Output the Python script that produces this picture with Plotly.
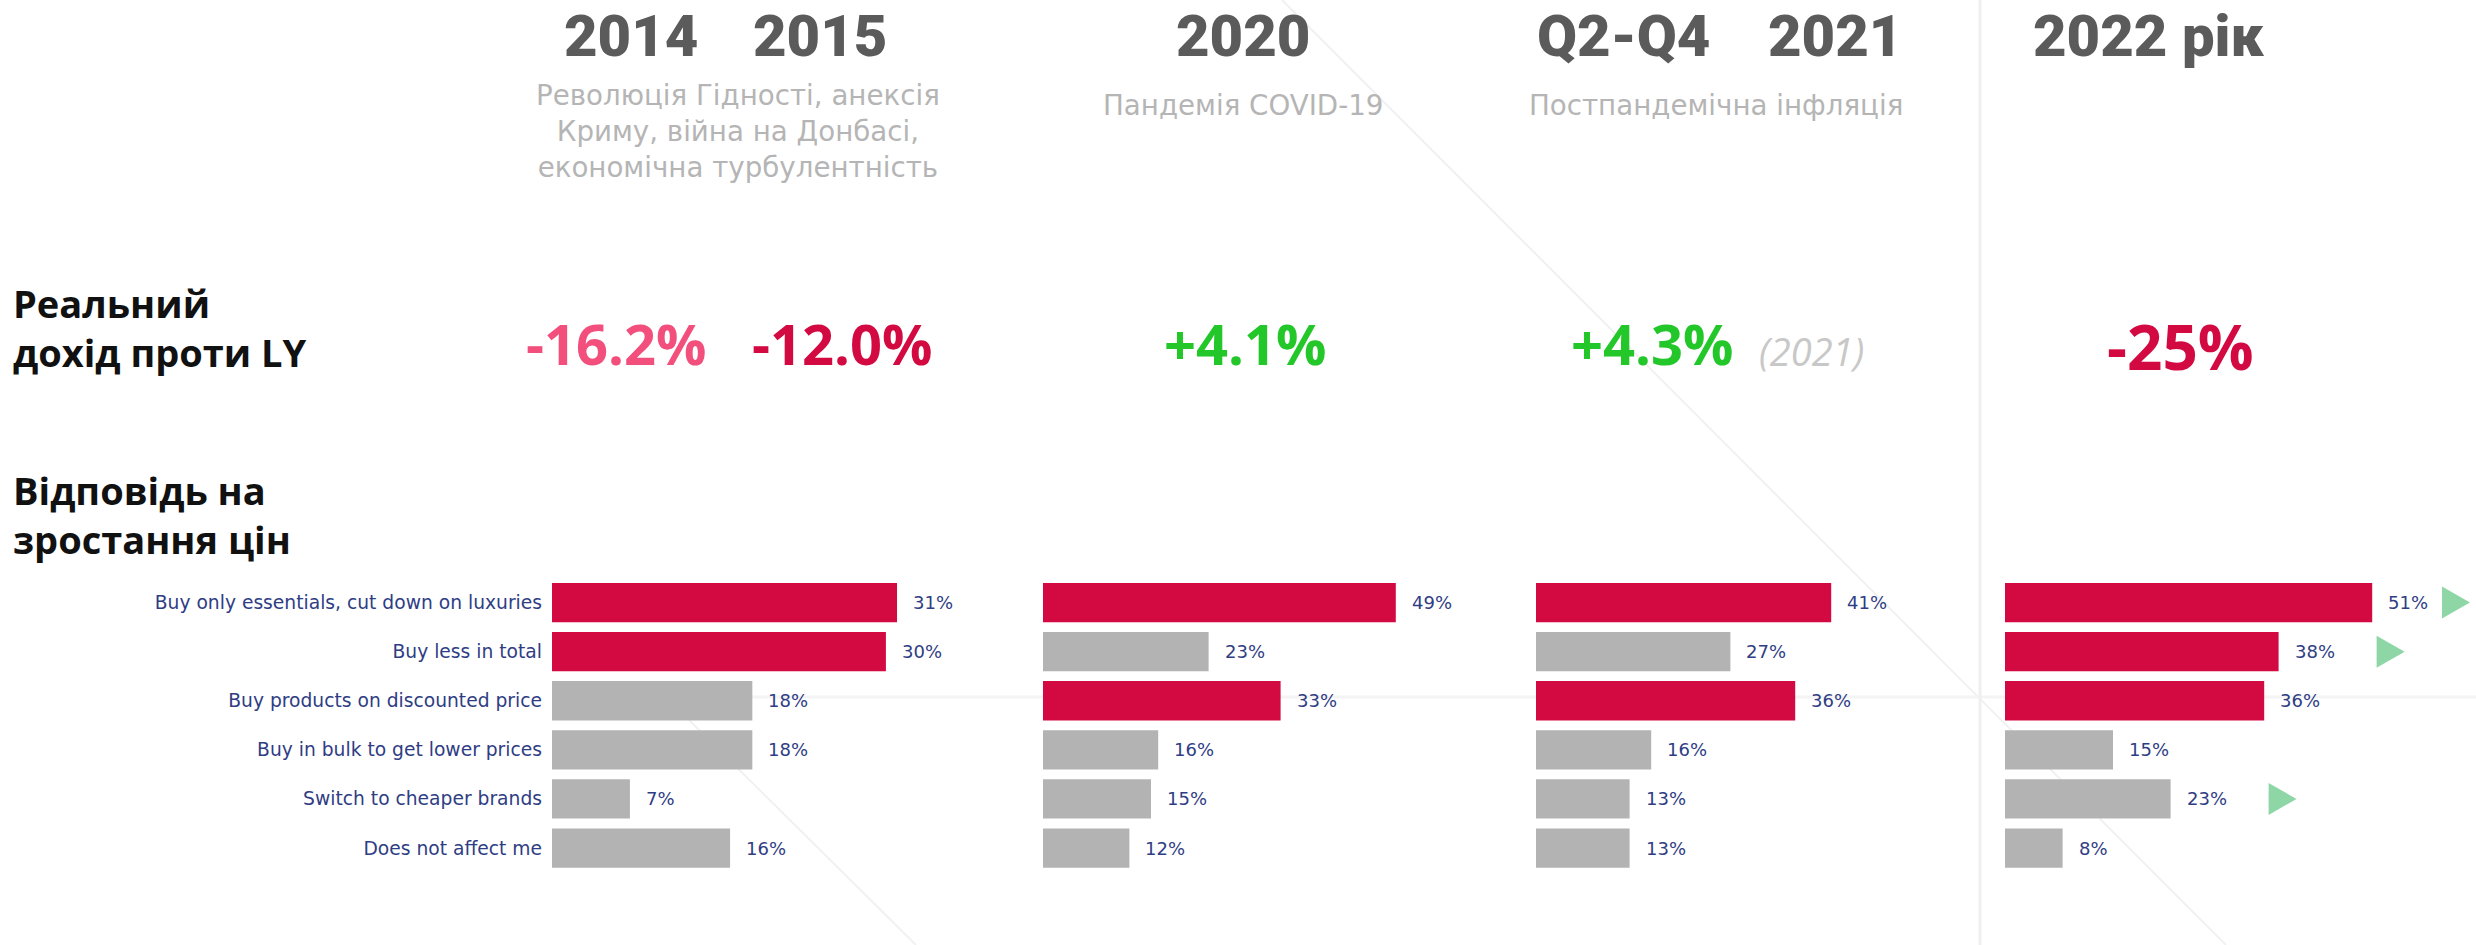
import plotly.graph_objects as go

W, H = 2476, 945

# ---------------- data ----------------
categories = [
    "Buy only essentials, cut down on luxuries",
    "Buy less in total",
    "Buy products on discounted price",
    "Buy in bulk to get lower prices",
    "Switch to cheaper brands",
    "Does not affect me",
]
resp_2014 = [31, 30, 18, 18, 7, 16]
resp_2020 = [49, 23, 33, 16, 15, 12]
resp_2021 = [41, 27, 36, 16, 13, 13]
resp_2022 = [51, 38, 36, 15, 23, 8]
hl_2014 = [True, True, False, False, False, False]
hl_2020 = [True, False, True, False, False, False]
hl_2021 = [True, False, True, False, False, False]
hl_2022 = [True, True, True, False, False, False]

period_labels = ["2014", "2015", "2020", "Q2-Q4", "2021", "2022 рік"]
event_labels = [
    "Революція Гідності, анексія<br>Криму, війна на Донбасі,<br>економічна турбулентність",
    "Пандемія COVID-19",
    "Постпандемічна інфляція",
]
income_labels = ["-16.2%", "-12.0%", "+4.1%", "+4.3%", "-25%"]
income_note = "(2021)"
row_titles = ["Реальний<br>дохід проти LY", "Відповідь на<br>зростання цін"]

# ---------------- styles ----------------
RED = "#d20a41"
GREY = "#b3b3b3"
NAVY = "#2f3d84"
HEAD = "#5b5b5b"
SUB = "#b5b5b5"
FONT = "Open Sans"
LFONT = "DejaVu Sans"


def px(x):
    return x / W


def py(y):
    return 1 - y / H


panels = [
    # (values, highlight flags, left px, px per %, right px of axis area)
    (resp_2014, hl_2014, 552, 11.13, 952),
    (resp_2020, hl_2020, 1043, 7.2, 1443),
    (resp_2021, hl_2021, 1536, 7.2, 1936),
    (resp_2022, hl_2022, 2005, 7.2, W),
]
ydom = [py(872.6), py(578)]

fig = go.Figure()
layout = dict(
    width=W, height=H, margin=dict(l=0, r=0, t=0, b=0),
    paper_bgcolor="white", plot_bgcolor="rgba(0,0,0,0)",
    showlegend=False, bargap=0.2,
    font=dict(family=FONT, color=NAVY),
)
annotations = []
shapes = []

for i, (vals, hl, x0, scale, x1) in enumerate(panels, start=1):
    xa = "x" if i == 1 else f"x{i}"
    ya = "y" if i == 1 else f"y{i}"
    fig.add_trace(go.Bar(
        x=vals, y=categories, orientation="h",
        marker=dict(color=[RED if h else GREY for h in hl], line=dict(width=0)),
        xaxis=xa, yaxis=ya, hoverinfo="x+y",
    ))
    layout["xaxis" if i == 1 else f"xaxis{i}"] = dict(
        domain=[px(x0), px(x1)], range=[0, (x1 - x0) / scale],
        visible=False, anchor=ya, fixedrange=True,
    )
    layout["yaxis" if i == 1 else f"yaxis{i}"] = dict(
        domain=ydom, anchor=xa, type="category", autorange="reversed",
        showgrid=False, zeroline=False, showline=False, ticks="",
        showticklabels=(i == 1), ticklabelstandoff=9,
        tickfont=dict(family=LFONT, size=18.7, color=NAVY), fixedrange=True,
    )
    for v, c in zip(vals, categories):
        annotations.append(dict(
            x=v, y=c, xref=xa, yref=ya, text=f"{v}%", showarrow=False,
            xanchor="left", yanchor="middle", xshift=14,
            font=dict(family=LFONT, size=18, color=NAVY),
        ))

# trend triangles for 2022 (increase vs 2021)
x0_22, sc_22 = panels[3][2], panels[3][3]
for k, (v22, v21) in enumerate(zip(resp_2022, resp_2021)):
    if v22 > v21:
        end_px = x0_22 + v22 * sc_22
        off = min(98, W - 6 - 28 - end_px)
        shapes.append(dict(
            type="path", xref="x4", yref="y4",
            xsizemode="pixel", ysizemode="pixel",
            xanchor=v22, yanchor=k,
            path=f"M{off},-16 L{off + 28},0 L{off},16 Z",
            fillcolor="#8fd6a7", line=dict(width=0), layer="above",
        ))

# background decorations
deco = "#f1f1f1"
shapes += [
    dict(type="line", xref="paper", yref="paper", x0=px(1282), y0=py(0), x1=px(2226), y1=py(945),
         line=dict(color=deco, width=2), layer="below"),
    dict(type="line", xref="paper", yref="paper", x0=px(689), y0=py(720), x1=px(916), y1=py(945),
         line=dict(color=deco, width=2), layer="below"),
    dict(type="line", xref="paper", yref="paper", x0=px(689), y0=py(697), x1=px(2476), y1=py(697),
         line=dict(color="#f4f4f4", width=3), layer="below"),
    dict(type="line", xref="paper", yref="paper", x0=px(1980), y0=py(0), x1=px(1980), y1=py(945),
         line=dict(color="#efefef", width=3), layer="below"),
]

# period headers (anchored at top edge)
head_x = [631, 820, 1243, 1623, 1835, 2149]
for t, x in zip(period_labels, head_x):
    annotations.append(dict(
        x=px(x), y=1, xref="paper", yref="paper", text=t, showarrow=False,
        xanchor="center", yanchor="top",
        font=dict(family="Roboto", size=58, color=HEAD, weight=900),
    ))

# event subtitles
sub_pos = [(738, 132), (1243, 105), (1716, 105)]
for t, (x, y) in zip(event_labels, sub_pos):
    annotations.append(dict(
        x=px(x), y=py(y), xref="paper", yref="paper", text=t, showarrow=False,
        xanchor="center", yanchor="middle", align="center",
        font=dict(family=LFONT, size=27.7, color=SUB),
    ))

# real income values
inc_colors = ["#f24f7c", RED, "#24c72a", "#24c72a", RED]
inc_pos = [(616, 343), (842, 343), (1245, 343), (1652, 343), (2180, 346)]
inc_size = [56, 56, 56, 56, 62]
for t, c, (x, y), s in zip(income_labels, inc_colors, inc_pos, inc_size):
    annotations.append(dict(
        x=px(x), y=py(y), xref="paper", yref="paper", text=t, showarrow=False,
        xanchor="center", yanchor="middle",
        font=dict(family=FONT, size=s, color=c, weight=700),
    ))
annotations.append(dict(
    x=px(1812), y=py(351), xref="paper", yref="paper", text=f"<i>{income_note}</i>",
    showarrow=False, xanchor="center", yanchor="middle",
    font=dict(family=FONT, size=38, color="#c8c8c8"),
))

# row titles
for t, y in zip(row_titles, [327, 514]):
    annotations.append(dict(
        x=px(11), y=py(y), xref="paper", yref="paper", text=t, showarrow=False,
        xanchor="left", yanchor="middle", align="left",
        font=dict(family=FONT, size=38, color="#111111", weight=700),
    ))

layout["annotations"] = annotations
layout["shapes"] = shapes
fig.update_layout(**layout)
fig.write_html(
    "out.html",
    config={"displayModeBar": False},
    post_script="document.body.style.margin='0';document.body.style.overflow='hidden';",
)
